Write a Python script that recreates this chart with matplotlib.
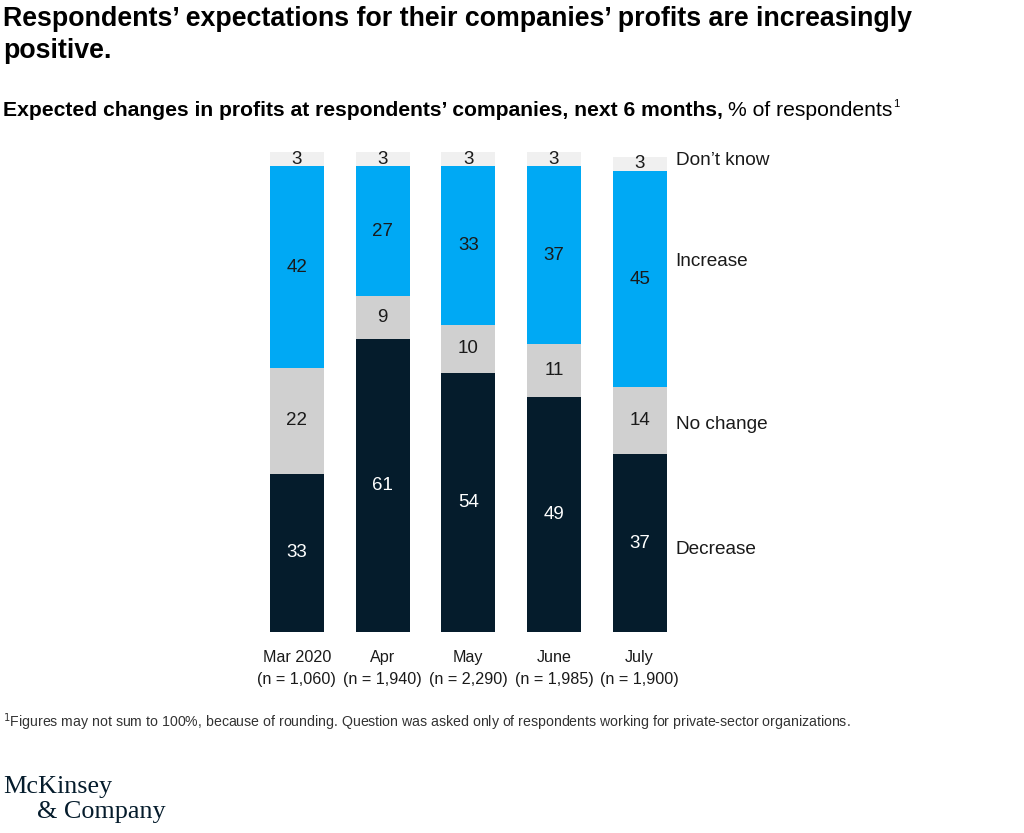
import matplotlib.pyplot as plt
import numpy as np

# Survey data, % of respondents
months = ["Mar 2020", "Apr", "May", "June", "July"]
sample_sizes = ["1,060", "1,940", "2,290", "1,985", "1,900"]
decrease = [33, 61, 54, 49, 37]
no_change = [22, 9, 10, 11, 14]
increase = [42, 27, 33, 37, 45]
dont_know = [3, 3, 3, 3, 3]

series_names = ["Decrease", "No change", "Increase", "Don\u2019t know"]
series_label_y = [17.1, 43.3, 77.1, 98.3]

navy = "#051c2c"
blue = "#00a9f4"
gray = "#d0d0d0"
light = "#f0f0f0"
text_dark = "#1a1a1a"

plt.rcParams["font.family"] = ["Liberation Sans", "DejaVu Sans"]

W, H = 1024, 833
fig = plt.figure(figsize=(W / 100, H / 100), dpi=100)

# axes placed in pixel terms: bars from y=152 to y=632
ax = fig.add_axes([254 / W, (H - 632) / H, 428.5 / W, 480 / H])
ax.set_xlim(-0.5, 4.5)
ax.set_ylim(0, 100)
ax.axis("off")

x = np.arange(len(months))
width = 0.63
layers = [
    (decrease, navy, "white"),
    (no_change, gray, text_dark),
    (increase, blue, text_dark),
    (dont_know, light, text_dark),
]
bottom = np.zeros(len(months))
for vals, color, tcolor in layers:
    vals = np.array(vals, dtype=float)
    ax.bar(x, vals, width, bottom=bottom, color=color, edgecolor="none")
    for xi, b, v in zip(x, bottom, vals):
        ax.text(xi, b + v / 2, f"{int(v)}", ha="center", va="center",
                fontsize=13.5, color=tcolor)
    bottom += vals

# series labels on the right
for name, yy in zip(series_names, series_label_y):
    ax.text(4.42, yy, name, ha="left", va="center", fontsize=13.7,
            color=text_dark, clip_on=False)

# category labels under bars
for xi, m, n in zip(x, months, sample_sizes):
    ax.text(xi, -5.4, m, ha="center", va="center", fontsize=11.6,
            color=text_dark, clip_on=False)
    ax.text(xi, -9.8, f"(n = {n})", ha="center", va="center", fontsize=11.6,
            color=text_dark, clip_on=False)

# title block
title_font = ["Liberation Sans", "DejaVu Sans"]
fig.text(3 / W, 1 - 18.5 / H,
         "Respondents\u2019 expectations for their companies\u2019 profits are increasingly",
         ha="left", va="center", fontsize=19.3, fontweight="bold",
         family=title_font, color="black")
fig.text(3 / W, 1 - 50.5 / H, "positive.", ha="left", va="center",
         fontsize=19.3, fontweight="bold", family=title_font, color="black")

sub = fig.text(3 / W, 1 - 111 / H,
               "Expected changes in profits at respondents\u2019 companies, next 6 months,",
               ha="left", va="center", fontsize=15.2, fontweight="bold",
               family=title_font, color="black")
fig.canvas.draw()
bb = sub.get_window_extent()
sub2 = fig.text(bb.x1 / W + 5 / W, 1 - 111 / H, "% of respondents",
                ha="left", va="center", fontsize=15.2, family=title_font,
                color="black")
bb2 = sub2.get_window_extent()
fig.text(bb2.x1 / W + 1 / W, 1 - 104 / H, "1", ha="left", va="center",
         fontsize=8, family=title_font, color="black")

# footnote
fig.text(3 / W, 1 - 722 / H,
         "$^1$Figures may not sum to 100%, because of rounding. Question was asked only of respondents working for private-sector organizations.",
         ha="left", va="center", fontsize=10.2, family=title_font, color="#333333")

# logo
fig.text(3 / W, 1 - 787 / H, "McKinsey", ha="left", va="center", fontsize=18.8,
         family=["Liberation Serif", "DejaVu Serif"], color=navy)
fig.text(37 / W, 1 - 812 / H, "& Company", ha="left", va="center", fontsize=18.8,
         family=["Liberation Serif", "DejaVu Serif"], color=navy)

fig.savefig("out.png", dpi=100, facecolor="white")
